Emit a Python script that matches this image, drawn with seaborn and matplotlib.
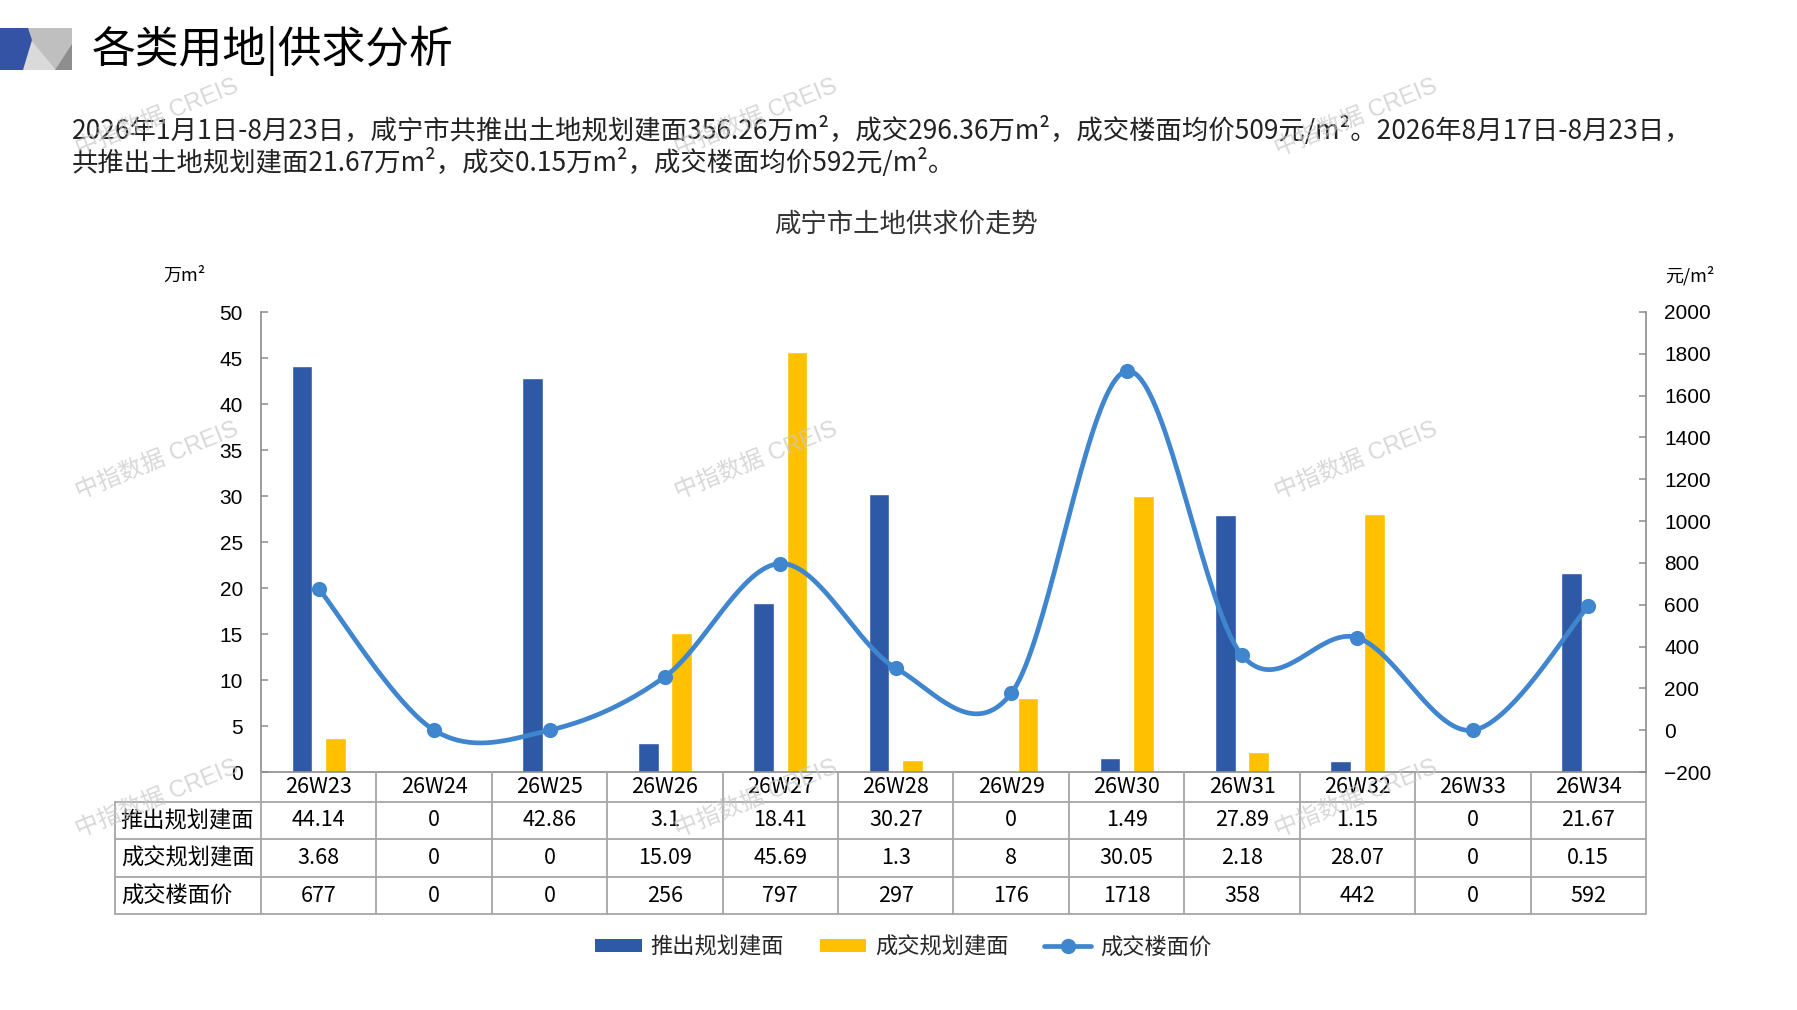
import numpy as np
import pandas as pd
import matplotlib
matplotlib.use("Agg")
import matplotlib.pyplot as plt
from matplotlib.patches import Polygon, Patch
from matplotlib.lines import Line2D
import matplotlib.transforms as mtransforms
import seaborn as sns

# ---------------- data ----------------
weeks = ["26W23", "26W24", "26W25", "26W26", "26W27", "26W28",
         "26W29", "26W30", "26W31", "26W32", "26W33", "26W34"]
supply = [44.14, 0, 42.86, 3.1, 18.41, 30.27, 0, 1.49, 27.89, 1.15, 0, 21.67]
deal = [3.68, 0, 0, 15.09, 45.69, 1.3, 8, 30.05, 2.18, 28.07, 0, 0.15]
price = [677, 0, 0, 256, 797, 297, 176, 1718, 358, 442, 0, 592]
supply_lbl = ["44.14", "0", "42.86", "3.1", "18.41", "30.27", "0", "1.49", "27.89", "1.15", "0", "21.67"]
deal_lbl = ["3.68", "0", "0", "15.09", "45.69", "1.3", "8", "30.05", "2.18", "28.07", "0", "0.15"]
price_lbl = ["677", "0", "0", "256", "797", "297", "176", "1718", "358", "442", "0", "592"]
series_names = ["推出规划建面", "成交规划建面", "成交楼面价"]
left_ticks = [0, 5, 10, 15, 20, 25, 30, 35, 40, 45, 50]
right_ticks = [-200, 0, 200, 400, 600, 800, 1000, 1200, 1400, 1600, 1800, 2000]

header_title = "各类用地|供求分析"
para1 = "2026年1月1日-8月23日，咸宁市共推出土地规划建面356.26万m²，成交296.36万m²，成交楼面均价509元/m²。2026年8月17日-8月23日，"
para2 = "共推出土地规划建面21.67万m²，成交0.15万m²，成交楼面均价592元/m²。"
chart_title = "咸宁市土地供求价走势"
unit_left = "万m²"
unit_right = "元/m²"
watermark = "中指数据 CREIS"

# ---------------- style ----------------
BLUE = "#2E59A7"
YELLOW = "#FFC000"
LINE = "#3F86CF"
GREY = "#8C8C8C"
TGREY = "#A6A6A6"

sns.set_theme(style="white")
plt.rcParams["font.family"] = ["Noto Sans CJK SC", "DejaVu Sans"]

W, H = 1797, 1010
fig = plt.figure(figsize=(W / 100, H / 100), dpi=100)
fig.patch.set_facecolor("white")

def fx(px):
    return px / W

def fy(py):
    return 1 - py / H

# axes placement (pixels)
L, R, T, B = 261, 1646, 312, 772
ax = fig.add_axes([fx(L), fy(B), fx(R - L), (B - T) / H])

df = pd.DataFrame({
    "week": weeks * 2,
    "value": supply + deal,
    "series": [series_names[0]] * len(weeks) + [series_names[1]] * len(weeks),
})
sns.barplot(data=df, x="week", y="value", hue="series", palette=[BLUE, YELLOW],
            width=0.58, gap=0.38, saturation=1, errorbar=None, legend=False, ax=ax)
ax.set_xlim(-0.5, len(weeks) - 0.5)
ax.set_ylim(0, 50)
ax.set_yticks(left_ticks)
ax.set_xlabel("")
ax.set_ylabel("")
ax.tick_params(axis="x", bottom=False, labelbottom=False)
ax.tick_params(axis="y", direction="in", length=5, width=1.1, color=GREY, pad=13,
               labelsize=15, labelcolor="black")
for lab in ax.get_yticklabels():
    lab.set_family(["Liberation Sans", "DejaVu Sans"])
for s in ["top", "right"]:
    ax.spines[s].set_visible(False)
for s in ["left", "bottom"]:
    ax.spines[s].set_color(GREY)
    ax.spines[s].set_linewidth(1.2)

# secondary axis with smoothed price line
ax2 = ax.twinx()
ax2.set_ylim(-200, 2000)
ax2.set_yticks(right_ticks)
ax2.tick_params(axis="y", direction="in", length=5, width=1.1, color=GREY, pad=13,
                labelsize=15, labelcolor="black")
for lab in ax2.get_yticklabels():
    lab.set_family(["Liberation Sans", "DejaVu Sans"])
for s in ["top", "left", "bottom"]:
    ax2.spines[s].set_visible(False)
ax2.spines["right"].set_color(GREY)
ax2.spines["right"].set_linewidth(1.2)
ax2.grid(False)
ax.grid(False)

def catmull(xs, ys, n=40):
    P = np.column_stack([xs, ys]).astype(float)
    out = []
    m = len(P)
    for i in range(m - 1):
        p0 = P[max(i - 1, 0)]
        p1 = P[i]
        p2 = P[i + 1]
        p3 = P[min(i + 2, m - 1)]
        c1 = p1 + (p2 - p0) / 6.0
        c2 = p2 - (p3 - p1) / 6.0
        t = np.linspace(0, 1, n, endpoint=(i == m - 2))[:, None]
        seg = ((1 - t) ** 3) * p1 + 3 * ((1 - t) ** 2) * t * c1 + 3 * (1 - t) * t ** 2 * c2 + t ** 3 * p2
        out.append(seg)
    out = np.vstack(out)
    return out[:, 0], out[:, 1]

xpos = np.arange(len(weeks))
sx, sy = catmull(xpos, price)
ax2.plot(sx, sy, color=LINE, lw=3.4, solid_capstyle="round", zorder=3)
sns.scatterplot(x=xpos, y=price, color=LINE, s=120, edgecolor=LINE, linewidth=0,
                ax=ax2, zorder=4, legend=False)

# ---------------- table ----------------
trans = mtransforms.blended_transform_factory(ax.transData, ax.transAxes)
ah = B - T
row_px = [772, 802, 839, 877, 914]
row_y = [-(p - B) / ah for p in row_px]
col_w = (R - L) / len(weeks)
x_left = -0.5 - (L - 115) / col_w
lkw = dict(color=TGREY, lw=1.3, transform=trans, clip_on=False, zorder=5)
for k in range(len(weeks) + 1):
    ax.add_line(Line2D([k - 0.5, k - 0.5], [row_y[0], row_y[-1]], **lkw))
ax.add_line(Line2D([x_left, x_left], [row_y[1], row_y[-1]], **lkw))
for yy in row_y[1:]:
    ax.add_line(Line2D([x_left, len(weeks) - 0.5], [yy, yy], **lkw))

tkw = dict(transform=trans, ha="center", va="center", fontsize=15.5, color="black", clip_on=False)
rows = [weeks, supply_lbl, deal_lbl, price_lbl]
for r, vals in enumerate(rows):
    yc = (row_y[r] + row_y[r + 1]) / 2
    for i, v in enumerate(vals):
        ax.text(i, yc, v, **tkw)
for r, name in enumerate(series_names):
    yc = (row_y[r + 1] + row_y[r + 2]) / 2
    ax.text(x_left + 0.05, yc, name, transform=trans, ha="left", va="center",
            fontsize=16, color="black", clip_on=False)

# ---------------- texts ----------------
fig.text(fx(906), fy(224), chart_title, ha="center", va="center", fontsize=19, color="#333333")
fig.text(fx(185), fy(276), unit_left, ha="center", va="center", fontsize=13, color="black")
fig.text(fx(1690), fy(276), unit_right, ha="center", va="center", fontsize=13, color="black")

fig.text(fx(92), fy(51), header_title, ha="left", va="center", fontsize=31.5, color="black")

p1 = fig.text(fx(72), fy(130), para1, ha="left", va="center", fontsize=16, color="#222222")
fig.canvas.draw()
rend = fig.canvas.get_renderer()
wpx = p1.get_window_extent(rend).width
fs = 16 * 1622 / wpx
p1.set_fontsize(fs)
fig.text(fx(72), fy(163), para2, ha="left", va="center", fontsize=fs, color="#222222")

# logo
fig.add_artist(Polygon([[fx(23), fy(28)], [fx(72), fy(28)], [fx(72), fy(70)], [fx(23), fy(70)]],
                       closed=True, transform=fig.transFigure, facecolor="#BFBFBF", edgecolor="none"))
fig.add_artist(Polygon([[fx(31), fy(40)], [fx(56), fy(70)], [fx(22), fy(70)]],
                       closed=True, transform=fig.transFigure, facecolor="#DADADA", edgecolor="none"))
fig.add_artist(Polygon([[fx(72), fy(44)], [fx(72), fy(70)], [fx(55), fy(70)]],
                       closed=True, transform=fig.transFigure, facecolor="#8E8E8E", edgecolor="none"))
fig.add_artist(Polygon([[fx(0), fy(28)], [fx(28), fy(28)], [fx(32), fy(40)], [fx(23), fy(70)], [fx(0), fy(70)]],
                       closed=True, transform=fig.transFigure, facecolor="#3553A4", edgecolor="none"))

# watermarks
for wx in [157, 756, 1356]:
    for wy in [118, 461, 799]:
        fig.text(fx(wx), fy(wy), watermark, ha="center", va="center", fontsize=17,
                 rotation=22, color="#C8C8C8", alpha=0.7, zorder=10,
                 family=["Liberation Sans", "Noto Sans CJK SC"])

# legend
handles = [Patch(facecolor=BLUE, edgecolor="none"),
           Patch(facecolor=YELLOW, edgecolor="none"),
           Line2D([0], [0], color=LINE, lw=3.4, marker="o", markersize=10)]
fig.legend(handles, series_names, loc="center", bbox_to_anchor=(fx(903), fy(947)), ncol=3,
           frameon=False, fontsize=16, handlelength=2.1, handleheight=0.55,
           handletextpad=0.4, columnspacing=1.6)

fig.savefig("out.png", dpi=100, facecolor="white")
